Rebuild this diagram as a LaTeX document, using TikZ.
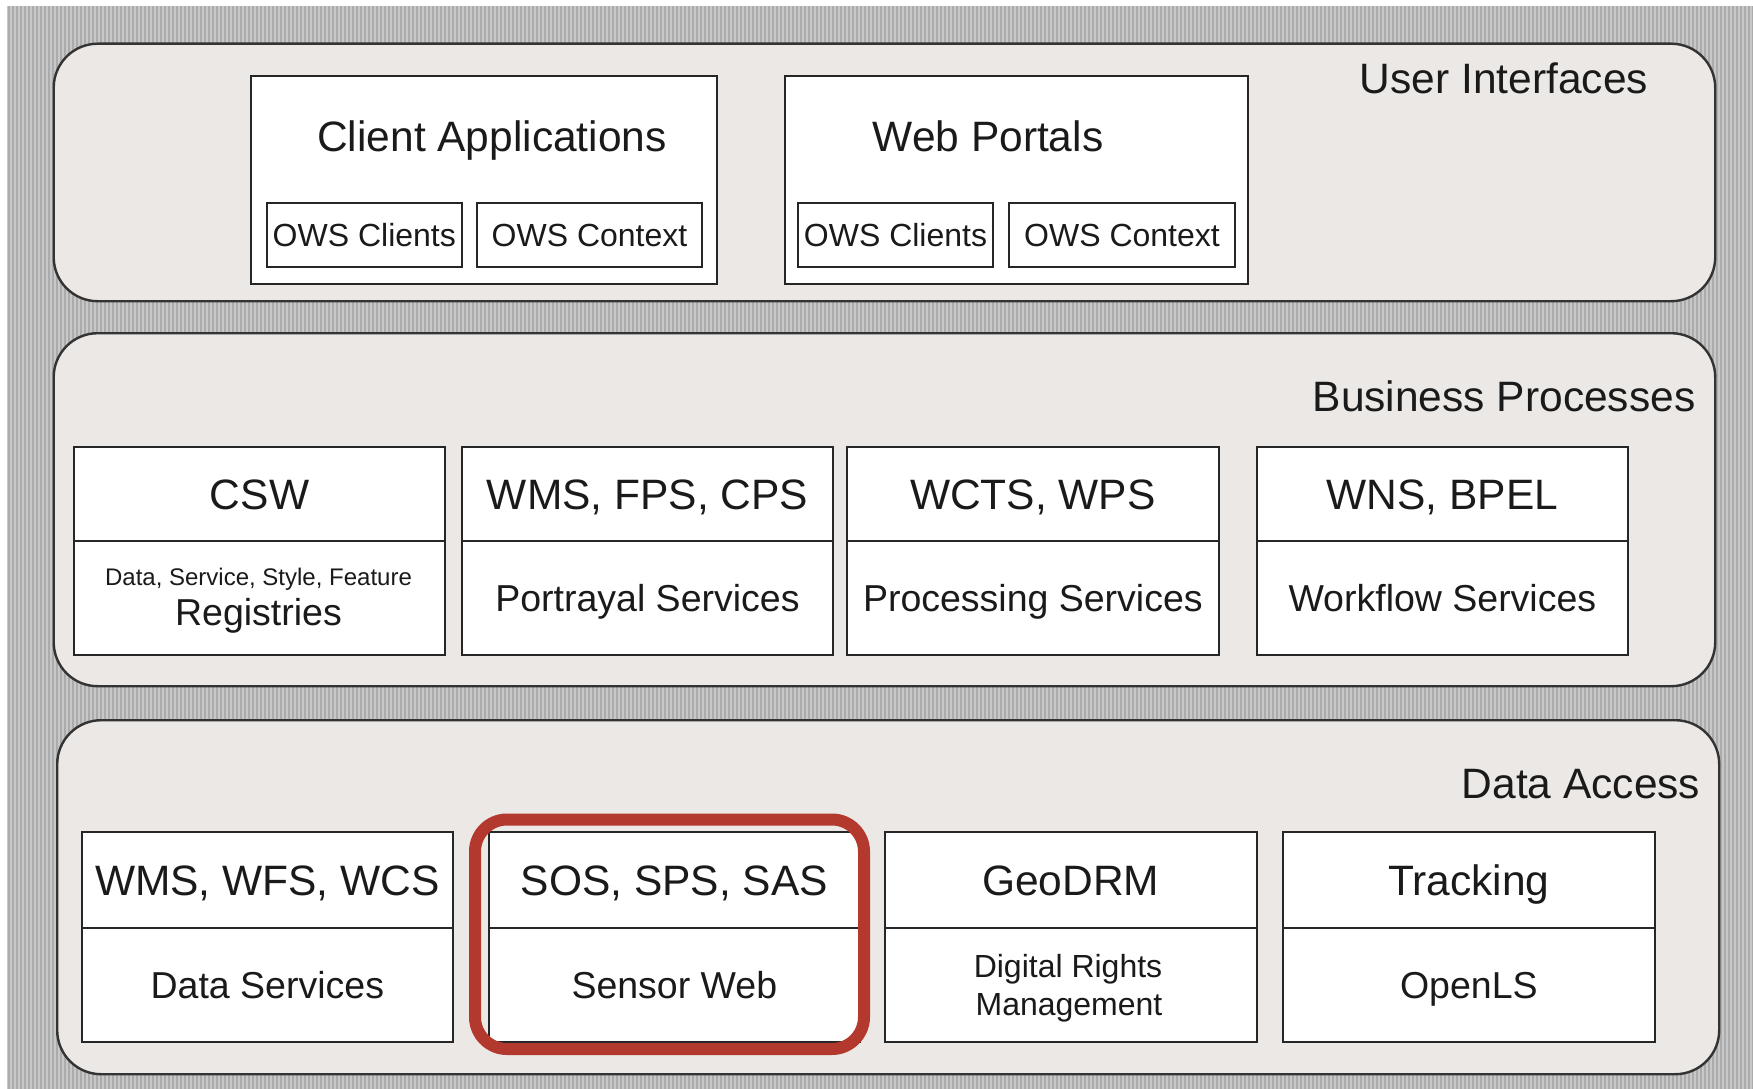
\documentclass[tikz,border=0pt]{standalone}
\usepackage{fontspec}
\setmainfont{Liberation Sans}
\definecolor{panelfill}{HTML}{EBE8E5}
\definecolor{bggray}{HTML}{C8C8C8}
\definecolor{bgstripe}{HTML}{ABABAB}
\definecolor{textc}{HTML}{1A1A1A}
\definecolor{redc}{HTML}{B3392F}
\newcommand\fsA{\fontsize{42.5}{48}\selectfont}
\newcommand\fsB{\fontsize{37.5}{43}\selectfont}
\newcommand\fsC{\fontsize{32}{38}\selectfont}
\newcommand\fsD{\fontsize{24}{28}\selectfont}
\begin{document}
\begin{tikzpicture}[x=1pt,y=-1pt,
  fA/.style={font=\fsA, text height=30.4pt, text depth=0pt},
  fB/.style={font=\fsB, text height=26.9pt, text depth=0pt},
  fC/.style={font=\fsC, text height=22.9pt, text depth=0pt},
  fD/.style={font=\fsD, text height=17.2pt, text depth=0pt},
  panel/.style={draw=black!80, line width=2.4pt, fill=panelfill, rounded corners=44pt, inner sep=0pt, anchor=north west},
  groupbox/.style={draw=black!85, line width=2.2pt, fill=white, inner sep=0pt, anchor=north west, minimum height=208pt},
  owsbox/.style={draw=black!85, line width=2pt, fill=white, inner sep=0pt, anchor=north west, minimum height=64pt, fC, text=textc},
  svctop/.style={draw=black!85, line width=2.2pt, fill=white, inner sep=0pt, anchor=north west, minimum width=371.5pt, fA, text=textc},
  svcbot/.style={draw=black!85, line width=2.2pt, fill=white, inner sep=0pt, anchor=north west, minimum width=371.5pt, minimum height=114pt, fB, text=textc},
  lbl/.style={inner sep=0pt, text=textc},
  highlight/.style={draw=redc, line width=12pt, rounded corners=32pt}
]
\useasboundingbox (0,0) rectangle (1753,1089);
% background
\fill[white] (0,0) rectangle (1753,1089);
\fill[bggray] (7,6) rectangle (1753,1089);
\foreach \x in {8,12,...,1752} \fill[bgstripe] (\x,6) rectangle (\x+1.5,1089);

% panels
\node[panel, minimum width=1661.5pt, minimum height=257.5pt] (ui) at (52.5,42.5) {};
\node[panel, minimum width=1661.5pt, minimum height=353pt] (bp) at (52.5,332) {};
\node[panel, minimum width=1662pt, minimum height=354pt] (da) at (56,719) {};

\node[lbl, fA] (uilbl) at (1504,78) {User Interfaces};
\node[lbl, fA] (bplbl) at (1504,396) {Business Processes};
\node[lbl, fA] (dalbl) at (1581,783) {Data Access};

% user interfaces
\node[groupbox, minimum width=465.5pt] (ca) at (250,75) {};
\node[lbl, fA] (catitle) at (492,136) {Client Applications};
\node[owsbox, minimum width=194.6pt] (ca-oc) at (266,202) {OWS Clients};
\node[owsbox, minimum width=225pt] (ca-ox) at (476,202) {OWS Context};

\node[groupbox, minimum width=462.6pt] (wp) at (784,75) {};
\node[lbl, fA] (wptitle) at (988,136) {Web Portals};
\node[owsbox, minimum width=195pt] (wp-oc) at (797,202) {OWS Clients};
\node[owsbox, minimum width=226pt] (wp-ox) at (1008,202) {OWS Context};

% business processes
\node[svctop, minimum height=94pt] (csw-t) at (72.7,446) {CSW};
\node[svcbot] (csw-b) at (72.7,540) {};
\node[lbl, fD] (csw-b1) at (258.5,577) {Data, Service, Style, Feature};
\node[lbl, fB] (csw-b2) at (258.5,612) {Registries};

\node[svctop, minimum height=94pt] (wms-t) at (460.6,446) {WMS, FPS, CPS};
\node[svcbot] (wms-b) at (460.6,540) {Portrayal Services};

\node[svctop, minimum height=94pt] (wcts-t) at (846,446) {WCTS, WPS};
\node[svcbot] (wcts-b) at (846,540) {Processing Services};

\node[svctop, minimum height=94pt] (wns-t) at (1255.5,446) {WNS, BPEL};
\node[svcbot] (wns-b) at (1255.5,540) {Workflow Services};

% data access
\node[svctop, minimum height=96.3pt] (wfs-t) at (80.5,830.7) {WMS, WFS, WCS};
\node[svcbot] (wfs-b) at (80.5,927) {Data Services};

\node[svctop, minimum height=96.3pt] (sos-t) at (487.5,830.7) {SOS, SPS, SAS};
\node[svcbot] (sos-b) at (487.5,927) {Sensor Web};

\node[svctop, minimum height=96.3pt] (geo-t) at (884,830.7) {GeoDRM};
\node[svcbot] (geo-b) at (884,927) {};
\node[lbl, fC] (geo-b1) at (1068,966) {Digital Rights};
\node[lbl, fC] (geo-b2) at (1069,1004) {Management};

\node[svctop, minimum height=96.3pt] (trk-t) at (1282,830.7) {Tracking};
\node[svcbot] (trk-b) at (1282,927) {OpenLS};

% highlight
\draw[highlight] (475,819.5) rectangle (864,1049);
\end{tikzpicture}
\end{document}
